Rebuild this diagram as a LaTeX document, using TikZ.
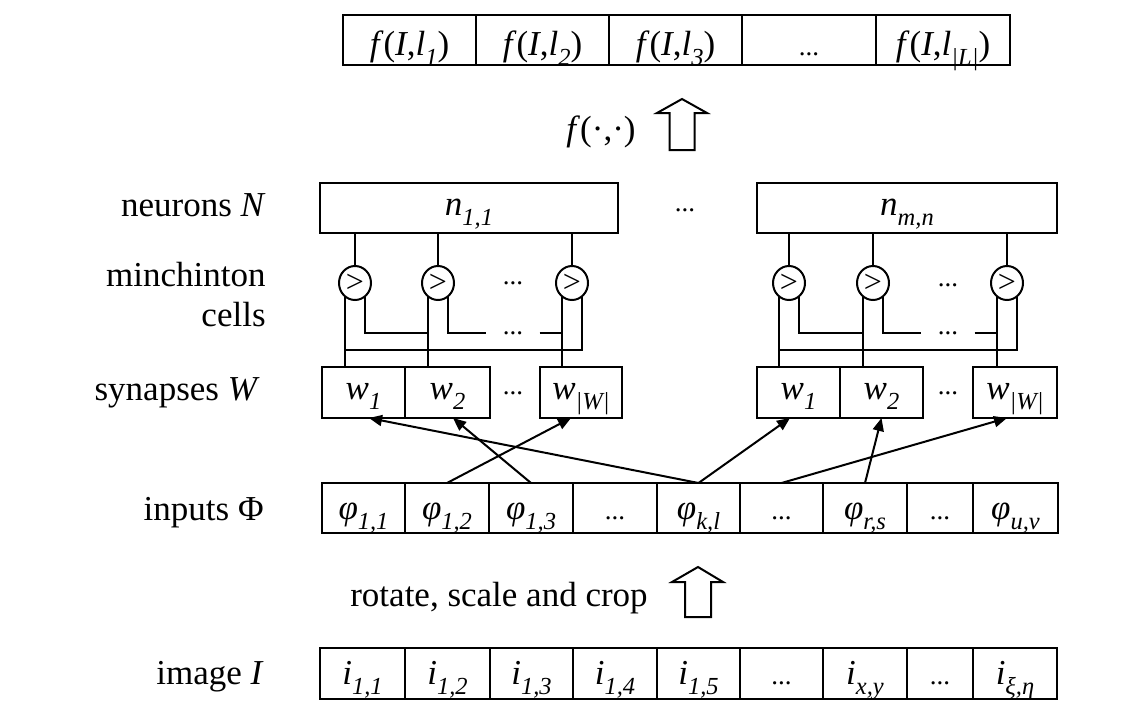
\documentclass[tikz,border=0pt]{standalone}
\usepackage{fontspec}
\setmainfont{Liberation Serif}
\usetikzlibrary{arrows.meta,shapes.geometric}

% lowered italic index
\newcommand\lo[1]{\raisebox{-5pt}{\fontsize{12.25}{13}\selectfont\itshape #1}}
% small ellipsis used inside cells
\newcommand\dts{{\fontsize{13.5}{14}\selectfont ...}}
% one cell of a row: style, name, left x, right x, baseline y, text
\newcommand\cell[6]{\node[#1, anchor=base, minimum width={(#4-#3)*0.5pt}] (#2)
  at ({(#3+#4)/2},#5) {#6};}

\begin{document}
\begin{tikzpicture}[x=0.5pt,y=-0.5pt,font=\fontsize{17.5}{21}\selectfont,
  box/.style={draw, line width=1pt, inner sep=0pt, outer sep=0pt},
  rowT/.style={box, text height=20pt, text depth=5pt},
  rowN/.style={box, text height=16pt, text depth=9pt},
  rowW/.style={box, text height=16pt, text depth=9.5pt},
  rowP/.style={box, text height=18pt, text depth=7pt},
  rowI/.style={box, text height=18pt, text depth=7.5pt},
  cmp/.style={ellipse, draw, line width=1pt, minimum width=16pt, minimum height=17pt,
    inner sep=0pt, outer sep=0pt, font=\fontsize{16}{16}\selectfont},
  wire/.style={line width=1pt},
  link/.style={line width=1pt, -{Triangle[length=6.5pt,width=5.5pt]}},
  blk/.style={draw, line width=1pt, fill=white, line join=miter},
  lbl/.style={anchor=base east, inner sep=0pt},
  gap/.style={inner sep=0pt, font=\fontsize{13.5}{14}\selectfont},
  gapline/.style={inner ysep=0pt, inner xsep=8pt, font=\fontsize{13.5}{14}\selectfont}]

\fill[white] (0,0) rectangle (1140,702);
\useasboundingbox (0,0) rectangle (1140,702);

% ---- output vector ----
\cell{rowT}{t1}{343}{476}{55}{\textit{f}(\textit{I},\textit{l}\lo{1})}
\cell{rowT}{t2}{476}{609}{55}{\textit{f}(\textit{I},\textit{l}\lo{2})}
\cell{rowT}{t3}{609}{742}{55}{\textit{f}(\textit{I},\textit{l}\lo{3})}
\cell{rowT}{t4}{742}{876}{55}{\dts}
\cell{rowT}{t5}{876}{1010}{55}{\textit{f}(\textit{I},\textit{l}\lo{|L|})}

\node[inner sep=0pt] (flab) at (601,132) {\textit{f}(·,·)};
\draw[blk] (682,99) -- (707,113) -- (694.5,113) -- (694.5,150) -- (669.5,150)
  -- (669.5,113) -- (657,113) -- cycle;

% ---- neurons ----
\cell{rowN}{na}{320}{618}{215}{\textit{n}\lo{1,1}}
\cell{rowN}{nb}{757}{1057}{215}{\textit{n}\lo{m,n}}
\node[gap] (ndots) at (685,210) {...};

% ---- minchinton cells ----
\node[cmp] (ca1) at (355,283) {>};
\node[cmp] (ca2) at (438,283) {>};
\node[cmp] (ca3) at (572,283) {>};
\node[cmp] (cb1) at (789,283) {>};
\node[cmp] (cb2) at (873,283) {>};
\node[cmp] (cb3) at (1007,283) {>};
\node[gap] (cdA) at (513,283) {...};
\node[gap] (cdB) at (948,285) {...};

\coordinate (yA) at (0,333);
\coordinate (yB) at (0,350);
\node[gapline] (dA) at (513,333) {...};
\node[gapline] (dB) at (948,333) {...};

% ---- synapses ----
\cell{rowW}{wa1}{322}{405}{399}{\textit{w}\lo{1}}
\cell{rowW}{wa2}{405}{490}{399}{\textit{w}\lo{2}}
\cell{rowW}{wa3}{540}{622}{399}{\textit{w}\lo{|W|}}
\cell{rowW}{wb1}{757}{840}{399}{\textit{w}\lo{1}}
\cell{rowW}{wb2}{840}{923}{399}{\textit{w}\lo{2}}
\cell{rowW}{wb3}{973}{1057}{399}{\textit{w}\lo{|W|}}
\node[gap] (sdA) at (513,393) {...};
\node[gap] (sdB) at (948,393) {...};

% neuron to comparator wires
\foreach \c/\n in {ca1/na, ca2/na, ca3/na, cb1/nb, cb2/nb, cb3/nb}
  \draw[wire] (\c.north) -- (\c.north |- \n.south);

% comparator legs, left neuron
\draw[wire] (ca1.233) -- (ca1.233 |- wa1.north);
\draw[wire] (ca1.307) |- (ca2.233 |- yA);
\draw[wire] (ca2.233) -- (ca2.233 |- wa2.north);
\draw[wire] (ca2.307) |- (dA.west);
\draw[wire] (dA.east) -- (ca3.233 |- dA.east);
\draw[wire] (ca3.233) -- (ca3.233 |- wa3.north);
\draw[wire] (ca3.307) |- (ca1.233 |- yB);

% comparator legs, right neuron
\draw[wire] (cb1.233) -- (cb1.233 |- wb1.north);
\draw[wire] (cb1.307) |- (cb2.233 |- yA);
\draw[wire] (cb2.233) -- (cb2.233 |- wb2.north);
\draw[wire] (cb2.307) |- (dB.west);
\draw[wire] (dB.east) -- (cb3.233 |- dB.east);
\draw[wire] (cb3.233) -- (cb3.233 |- wb3.north);
\draw[wire] (cb3.307) |- (cb1.233 |- yB);

% ---- inputs ----
\cell{rowP}{p1}{322}{405}{519}{\textit{φ}\lo{1,1}}
\cell{rowP}{p2}{405}{489}{519}{\textit{φ}\lo{1,2}}
\cell{rowP}{p3}{489}{573}{519}{\textit{φ}\lo{1,3}}
\cell{rowP}{p4}{573}{657}{519}{\dts}
\cell{rowP}{p5}{657}{740}{519}{\textit{φ}\lo{k,l}}
\cell{rowP}{p6}{740}{823}{519}{\dts}
\cell{rowP}{p7}{823}{907}{519}{\textit{φ}\lo{r,s}}
\cell{rowP}{p8}{907}{973}{519}{\dts}
\cell{rowP}{p9}{973}{1058}{519}{\textit{φ}\lo{u,v}}

% input to synapse links
\draw[link] (p5.north) -- ([xshift=2.75pt]wa1.south);
\draw[link] (p3.north) -- ([xshift=2.75pt]wa2.south);
\draw[link] (p2.north) -- ([xshift=-5pt]wa3.south);
\draw[link] (p5.north) -- ([xshift=-4.25pt]wb1.south);
\draw[link] (p7.north) -- (wb2.south);
\draw[link] (p6.north) -- ([xshift=-4pt]wb3.south);

% ---- preprocessing ----
\node[anchor=base, inner sep=0pt] (rot) at (499,606) {rotate, scale and crop};
\draw[blk] (698,567) -- (723,582) -- (711,582) -- (711,617) -- (685,617)
  -- (685,582) -- (672,582) -- cycle;

% ---- image ----
\cell{rowI}{i1}{320}{405}{684}{\textit{i}\lo{1,1}}
\cell{rowI}{i2}{405}{490}{684}{\textit{i}\lo{1,2}}
\cell{rowI}{i3}{490}{573}{684}{\textit{i}\lo{1,3}}
\cell{rowI}{i4}{573}{657}{684}{\textit{i}\lo{1,4}}
\cell{rowI}{i5}{657}{740}{684}{\textit{i}\lo{1,5}}
\cell{rowI}{i6}{740}{823}{684}{\dts}
\cell{rowI}{i7}{823}{907}{684}{\textit{i}\lo{x,y}}
\cell{rowI}{i8}{907}{973}{684}{\dts}
\cell{rowI}{i9}{973}{1057}{684}{\textit{i}\lo{ξ,η}}

% ---- row labels ----
\node[lbl] (lN)  at (266,216) {neurons \textit{N}};
\node[lbl] (lM1) at (266,286) {minchinton};
\node[lbl] (lM2) at (266,326) {cells};
\node[lbl] (lW)  at (260,400) {synapses \textit{W}};
\node[lbl] (lP)  at (264,520) {inputs Φ};
\node[lbl] (lI)  at (264,684) {image \textit{I}};

\end{tikzpicture}
\end{document}
